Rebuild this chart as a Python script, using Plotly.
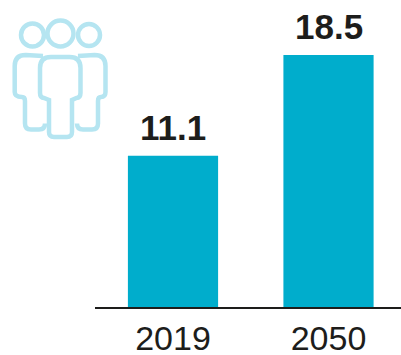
import plotly.graph_objects as go

# Population in each year
years = ["2019", "2050"]
values = [11.1, 18.5]
value_labels = ["11.1", "18.5"]

WIDTH, HEIGHT = 401, 355
LEFT, BOTTOM = 95, 48
ICON_COLOR = "#b5e5f1"


def px(x):
    return (x - LEFT) / (WIDTH - LEFT)


def py(y):
    return (HEIGHT - BOTTOM - y) / (HEIGHT - BOTTOM)


def path(*segments):
    # Each segment is a command letter followed by pixel pairs on the canvas.
    out = []
    for seg in segments:
        cmd, *nums = seg
        pts = [f"{px(nums[i]):.4f},{py(nums[i + 1]):.4f}" for i in range(0, len(nums), 2)]
        out.append(cmd + " ".join(pts))
    return " ".join(out)


def body(xl, xr, top, shoulder, xil, xir, bottom):
    r = 11
    f = 5
    return path(
        ("M", xil, bottom - f),
        ("L", xil, shoulder + 2),
        ("L", xl + 4, shoulder),
        ("Q", xl, shoulder, xl, shoulder - 5),
        ("L", xl, top + r),
        ("Q", xl, top, xl + r, top),
        ("L", xr - r, top),
        ("Q", xr, top, xr, top + r),
        ("L", xr, shoulder - 5),
        ("Q", xr, shoulder, xr - 4, shoulder),
        ("L", xir, shoulder + 2),
        ("L", xir, bottom - f),
        ("Q", xir, bottom, xir - f, bottom),
        ("L", xil + f, bottom),
        ("Q", xil, bottom, xil, bottom - f),
        ("Z",),
    )


def side_body(xl, xr, top, shoulder, xil, xir, bottom, open_x, left_side):
    # Outer figures stop where the central figure overlaps them.
    r = 11
    f = 6
    if left_side:
        return path(
            ("M", open_x, top + 1),
            ("L", xl + r, top),
            ("Q", xl, top, xl, top + r),
            ("L", xl, shoulder - 5),
            ("Q", xl, shoulder, xil - 3, shoulder),
            ("Q", xil, shoulder, xil, shoulder + 4),
            ("L", xil, bottom - f),
            ("Q", xil, bottom, xil + f, bottom),
            ("L", xir - f, bottom),
            ("Q", xir, bottom, xir, bottom - f),
        )
    return path(
        ("M", open_x, top + 1),
        ("L", xr - r, top),
        ("Q", xr, top, xr, top + r),
        ("L", xr, shoulder - 5),
        ("Q", xr, shoulder, xir + 3, shoulder),
        ("Q", xir, shoulder, xir, shoulder + 4),
        ("L", xir, bottom - f),
        ("Q", xir, bottom, xir - f, bottom),
        ("L", xil + f, bottom),
        ("Q", xil, bottom, xil, bottom - f),
    )


def head(cx, cy, r):
    return dict(
        type="circle", xref="paper", yref="paper",
        x0=px(cx - r), x1=px(cx + r), y0=py(cy + r), y1=py(cy - r),
        line=dict(color=ICON_COLOR, width=4.5),
    )


def outline(d):
    return dict(type="path", xref="paper", yref="paper", path=d,
                line=dict(color=ICON_COLOR, width=4.5))


icon = [
    head(32.5, 35, 11.5),
    head(60.5, 33.5, 13),
    head(89, 35, 11),
    outline(side_body(14.7, 43, 55, 97, 25, 45, 129.5, 43, True)),
    outline(side_body(77, 105.5, 55, 97, 77, 98, 129.5, 78, False)),
    outline(body(40, 80.5, 57, 98, 49, 72, 137)),
]

fig = go.Figure(
    go.Bar(
        x=years,
        y=values,
        marker=dict(color="#00adcc", line=dict(width=0)),
        hoverinfo="skip",
    )
)

# Value labels sit a fixed distance above each bar; category axes place
# annotations by the category's serial number.
for i, (value, label) in enumerate(zip(values, value_labels)):
    fig.add_annotation(
        x=i, y=value, xref="x", yref="y", text=label, showarrow=False,
        yanchor="bottom", yshift=7,
        font=dict(family="Liberation Sans", size=35, color="#1d1d1b", weight="bold"),
    )

fig.update_layout(
    width=WIDTH,
    height=HEIGHT,
    margin=dict(l=LEFT, r=0, t=0, b=BOTTOM, pad=0),
    paper_bgcolor="white",
    plot_bgcolor="white",
    bargap=0.42,
    showlegend=False,
    shapes=icon,
    xaxis=dict(
        type="category",
        range=[-0.5016, 1.4662],
        automargin=False,
        showgrid=False,
        showline=True,
        linecolor="#1d1d1b",
        linewidth=1.5,
        ticks="",
        tickfont=dict(family="Liberation Sans", size=34, color="#1d1d1b"),
    ),
    yaxis=dict(range=[0, 22.54], visible=False),
)

fig.write_html("out.html")
